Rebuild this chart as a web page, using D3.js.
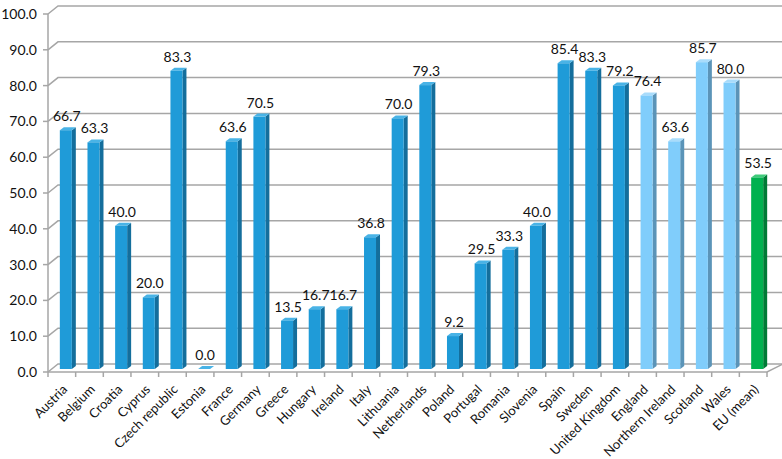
<!DOCTYPE html>
<html>
<head>
  <meta charset="utf-8">
  <style>
    body { margin: 0; background: #fff; }
    text { font-family: Lato, "Noto Sans", sans-serif; fill: #111; }
  </style>
  <script src="https://d3js.org/d3.v7.min.js"></script>
</head>
<body>
<svg width="782" height="459"></svg>
<script>
// data
var countries = ["Austria", "Belgium", "Croatia", "Cyprus", "Czech republic", "Estonia",
  "France", "Germany", "Greece", "Hungary", "Ireland", "Italy", "Lithuania", "Netherlands",
  "Poland", "Portugal", "Romania", "Slovenia", "Spain", "Sweden", "United Kingdom",
  "England", "Northern Ireland", "Scotland", "Wales", "EU (mean)"];
var values = [66.7, 63.3, 40.0, 20.0, 83.3, 0.0, 63.6, 70.5, 13.5, 16.7, 16.7, 36.8, 70.0, 79.3,
  9.2, 29.5, 33.3, 40.0, 85.4, 83.3, 79.2, 76.4, 63.6, 85.7, 80.0, 53.5];
var groups = ["eu", "eu", "eu", "eu", "eu", "eu", "eu", "eu", "eu", "eu", "eu", "eu", "eu", "eu",
  "eu", "eu", "eu", "eu", "eu", "eu", "eu", "uk", "uk", "uk", "uk", "mean"];
var yTicks = [0, 10, 20, 30, 40, 50, 60, 70, 80, 90, 100];

var colors = {
  eu:   {front: "#1f9bd8", side: "#146e9c", top: "#49b3e6"},
  uk:   {front: "#80cdfb", side: "#5b94b8", top: "#a9dcfb"},
  mean: {front: "#00b14f", side: "#007a36", top: "#3fca7a"}
};

var svg = d3.select("svg");
var depthX = 10, depthY = -8;   // 3d depth of the floor / walls
var barW = 12, barDX = 4, barDY = -3;

var x = d3.scaleBand().domain(countries).range([48, 767]).padding(0);
var y = d3.scaleLinear().domain([0, 100]).range([372, 14]);

var data = countries.map(function(c, i) { return {name: c, value: values[i], group: groups[i]}; });

var grid = svg.append("g").attr("fill", "none").attr("stroke", "#a6a6a6").attr("stroke-width", 1.5);

// back wall gridlines + side wall diagonals
yTicks.forEach(function(t) {
  if (t > 0) {
    grid.append("path")
      .attr("d", "M48," + y(t) + "L" + (48 + depthX) + "," + (y(t) + depthY) + "H790");
  }
  grid.append("line").attr("x1", 43).attr("x2", 48).attr("y1", y(t)).attr("y2", y(t));
});
grid.append("line").attr("x1", 48).attr("x2", 48).attr("y1", y(100)).attr("y2", y(0));

// floor
grid.append("path")
  .attr("d", "M48," + y(0) + "L" + (48 + depthX) + "," + (y(0) + depthY) + "H790");
grid.append("path")
  .attr("d", "M48," + y(0) + "H767L" + (767 + depthX + 6) + "," + (y(0) + depthY));
countries.forEach(function(c) {
  grid.append("line").attr("x1", x(c)).attr("x2", x(c)).attr("y1", y(0)).attr("y2", y(0) + 5);
});
grid.append("line").attr("x1", 767).attr("x2", 767).attr("y1", y(0)).attr("y2", y(0) + 5);

// y labels
svg.append("g").selectAll("text")
  .data(yTicks).join("text")
  .attr("x", 37).attr("y", function(d) { return y(d); })
  .attr("dy", "0.35em").attr("text-anchor", "end")
  .style("font-size", "14px")
  .text(function(d) { return d3.format(".1f")(d); });

// bars
var bars = svg.append("g").selectAll("g").data(data).join("g");
function barLeft(d) { return x(d.name) + x.bandwidth() / 2 + barDX - barW / 2; }
function barTop(d) { return y(d.value) + barDY; }
var base = y(0) + barDY;
var dx = 4, dy = -3;

bars.append("path")  // side face
  .attr("fill", function(d) { return colors[d.group].side; })
  .attr("d", function(d) {
    var r = barLeft(d) + barW;
    return "M" + r + "," + base + "V" + barTop(d) + "l" + dx + "," + dy + "V" + (base + dy) + "Z";
  });
bars.append("path")  // top face
  .attr("fill", function(d) { return colors[d.group].top; })
  .attr("d", function(d) {
    var l = barLeft(d), t = barTop(d);
    return "M" + l + "," + t + "h" + barW + "l" + dx + "," + dy + "h" + (-barW) + "Z";
  });
bars.append("rect")  // front face
  .attr("fill", function(d) { return colors[d.group].front; })
  .attr("x", barLeft)
  .attr("y", barTop)
  .attr("width", barW)
  .attr("height", function(d) { return base - barTop(d); });

// value labels
bars.append("text")
  .attr("x", function(d) { return barLeft(d) + barW / 2 + 1; })
  .attr("y", function(d) { return barTop(d) - 9; })
  .attr("text-anchor", "middle")
  .style("font-size", "14px")
  .text(function(d) { return d3.format(".1f")(d.value); });

// category labels
svg.append("g").selectAll("text")
  .data(countries).join("text")
  .attr("transform", function(d) {
    return "translate(" + (x(d) + x.bandwidth() / 2 + 3) + "," + (y(0) + 15) + ") rotate(-45)";
  })
  .attr("text-anchor", "end")
  .attr("dy", "0.35em")
  .style("font-size", "13px")
  .text(function(d) { return d; });
</script>
</body>
</html>
